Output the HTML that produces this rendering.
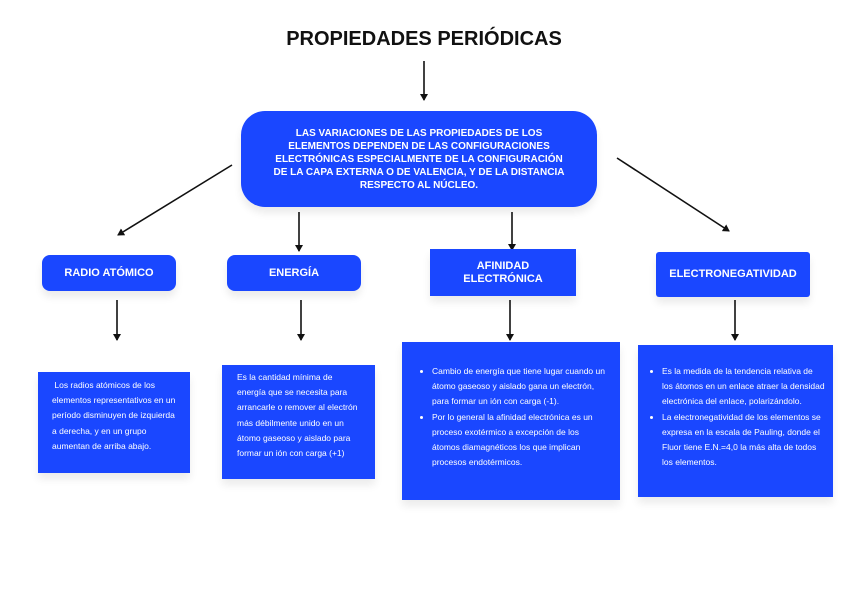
<!DOCTYPE html>
<html><head><meta charset="utf-8"><style>
body{margin:0;width:848px;height:600px;background:#fff;position:relative;overflow:hidden;font-family:"Liberation Sans",sans-serif}
.b{position:absolute;background:#1a47ff;color:#fff;box-sizing:border-box;box-shadow:0 6px 8px rgba(0,0,0,0.08)}
.h{display:flex;align-items:center;justify-content:center;text-align:center;font-weight:bold;font-size:11px;line-height:13px}
.t{font-size:8.5px;line-height:15.2px}
ul{margin:0;padding-left:14px}
</style></head><body>
<div style="position:absolute;left:0;width:848px;top:28px;text-align:center;font-weight:bold;font-size:20px;color:#111">PROPIEDADES PERIÓDICAS</div>
<svg width="848" height="600" style="position:absolute;left:0;top:0">
<defs><marker id="a" markerWidth="8" markerHeight="8" refX="6" refY="4" orient="auto" markerUnits="userSpaceOnUse"><path d="M0,0 L7,4 L0,8 z" fill="#111"/></marker></defs>
<g stroke="#111" stroke-width="1.6" marker-end="url(#a)">
<line x1="424" y1="61" x2="424" y2="100"/>
<line x1="232" y1="165" x2="118" y2="235"/>
<line x1="299" y1="212" x2="299" y2="251"/>
<line x1="512" y1="212" x2="512" y2="250"/>
<line x1="617" y1="158" x2="729" y2="231"/>
<line x1="117" y1="300" x2="117" y2="340"/>
<line x1="301" y1="300" x2="301" y2="340"/>
<line x1="510" y1="300" x2="510" y2="340"/>
<line x1="735" y1="300" x2="735" y2="340"/>
</g></svg>
<div class="b h" style="left:241px;top:111px;width:356px;height:96px;border-radius:24px;font-size:10px;line-height:13px;padding:0 28px">LAS VARIACIONES DE LAS PROPIEDADES DE LOS ELEMENTOS DEPENDEN DE LAS CONFIGURACIONES ELECTRÓNICAS ESPECIALMENTE DE LA CONFIGURACIÓN DE LA CAPA EXTERNA O DE VALENCIA, Y DE LA DISTANCIA RESPECTO AL NÚCLEO.</div>
<div class="b h" style="left:42px;top:255px;width:134px;height:36px;border-radius:8px">RADIO ATÓMICO</div>
<div class="b h" style="left:227px;top:255px;width:134px;height:36px;border-radius:8px">ENERGÍA</div>
<div class="b h" style="left:430px;top:249px;width:146px;height:47px">AFINIDAD<br>ELECTRÓNICA</div>
<div class="b h" style="left:656px;top:252px;width:154px;height:45px;border-radius:3px">ELECTRONEGATIVIDAD</div>
<div class="b t" style="left:38px;top:372px;width:152px;height:101px;padding:6px 10px 0 14px">&nbsp;Los radios atómicos de los elementos representativos en un período disminuyen de izquierda a derecha, y en un grupo aumentan de arriba abajo.</div>
<div class="b t" style="left:222px;top:365px;width:153px;height:114px;padding:5px 12px 0 15px">Es la cantidad mínima de energía que se necesita para arrancarle o remover al electrón más débilmente unido en un átomo gaseoso y aislado para formar un ión con carga (+1)</div>
<div class="b t" style="left:402px;top:342px;width:218px;height:158px;padding:22px 14px 0 16px"><ul><li>Cambio de energía que tiene lugar cuando un átomo gaseoso y aislado gana un electrón, para formar un ión con carga (-1).</li><li>Por lo general la afinidad electrónica es un proceso exotérmico a excepción de los átomos diamagnéticos los que implican procesos endotérmicos.</li></ul></div>
<div class="b t" style="left:638px;top:345px;width:195px;height:152px;padding:19px 8px 0 10px"><ul><li>Es la medida de la tendencia relativa de los átomos en un enlace atraer la densidad electrónica del enlace, polarizándolo.</li><li>La electronegatividad de los elementos se expresa en la escala de Pauling, donde el Fluor tiene E.N.=4,0 la más alta de todos los elementos.</li></ul></div>
</body></html>
